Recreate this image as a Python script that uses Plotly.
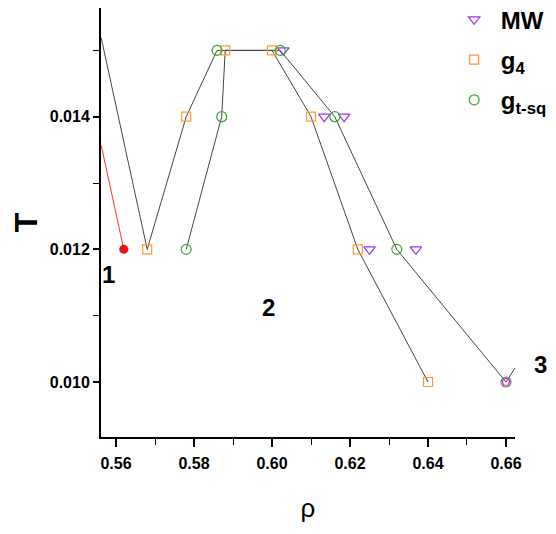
import plotly.graph_objects as go

# ---- data ----
mw_rho = [0.6029, 0.6134, 0.6185, 0.6250, 0.6369]
mw_T = [0.015, 0.014, 0.014, 0.012, 0.012]

g4_rho = [0.568, 0.578, 0.588, 0.600, 0.610, 0.622, 0.640]
g4_T = [0.012, 0.014, 0.015, 0.015, 0.014, 0.012, 0.010]

gt_rho = [0.578, 0.5871, 0.5859, 0.6021, 0.6161, 0.632, 0.660]
gt_T = [0.012, 0.014, 0.015, 0.015, 0.014, 0.012, 0.010]

pathA_rho = [0.5562, 0.568, 0.578, 0.5859, 0.6021, 0.6161, 0.632, 0.660, 0.6623]
pathA_T = [0.01519, 0.012, 0.014, 0.015, 0.015, 0.014, 0.012, 0.010, 0.01021]

pathB_rho = [0.578, 0.5871, 0.588, 0.600, 0.610, 0.622, 0.640]
pathB_T = [0.012, 0.014, 0.015, 0.015, 0.014, 0.012, 0.010]

red_rho = [0.5562, 0.562]
red_T = [0.01357, 0.012]
red_pt_rho = [0.562]
red_pt_T = [0.012]

mag_rho = [0.660]
mag_T = [0.010]

region_labels = ["1", "2"]
region_rho = [0.5580, 0.5990]
region_T = [0.01162, 0.01113]

x_range = [0.55615, 0.66231]
y_range = [0.009171, 0.015639]

SANS = "Liberation Sans, Arial, sans-serif"

fig = go.Figure()

line_style = dict(color="#444444", width=1)
fig.add_trace(go.Scatter(x=pathA_rho, y=pathA_T, mode="lines", line=line_style,
                         showlegend=False, hoverinfo="skip"))
fig.add_trace(go.Scatter(x=pathB_rho, y=pathB_T, mode="lines", line=line_style,
                         showlegend=False, hoverinfo="skip"))
fig.add_trace(go.Scatter(x=red_rho, y=red_T, mode="lines", line=dict(color="#ff3333", width=1),
                         showlegend=False, hoverinfo="skip"))
fig.add_trace(go.Scatter(x=red_pt_rho, y=red_pt_T, mode="markers",
                         marker=dict(symbol="circle", size=9, color="#ee1111"),
                         showlegend=False))

fig.add_trace(go.Scatter(x=mw_rho, y=mw_T, mode="markers", name="&nbsp;<b>MW</b>", legendgroup="a",
                         marker=dict(symbol="triangle-down-open", size=10, color="#9933ff",
                                     line=dict(width=1.2))))
fig.add_trace(go.Scatter(x=g4_rho, y=g4_T, mode="markers", name="&nbsp;<b>g<sub>4</sub></b>", legendgroup="b",
                         marker=dict(symbol="square-open", size=9, color="#ff9933",
                                     line=dict(width=1.2))))
fig.add_trace(go.Scatter(x=gt_rho, y=gt_T, mode="markers", name="&nbsp;<b>g<sub>t-sq</sub></b>", legendgroup="c",
                         marker=dict(symbol="circle-open", size=10, color="#33aa33",
                                     line=dict(width=1.2))))
fig.add_trace(go.Scatter(x=mag_rho, y=mag_T, mode="markers",
                         marker=dict(symbol="pentagon-open", size=8, color="#ff00ff",
                                     line=dict(width=1.2)),
                         showlegend=False))

annotations = []
for lab, xr, yt in zip(region_labels, region_rho, region_T):
    annotations.append(dict(x=xr, y=yt, xref="x", yref="y", text="<b>" + lab + "</b>",
                            showarrow=False, font=dict(family=SANS, size=24, color="black")))
annotations.append(dict(x=1.082, y=0.1329, xref="paper", yref="paper", text="<b>3</b>",
                        showarrow=False, font=dict(family=SANS, size=24, color="black")))

fig.update_layout(
    width=556, height=534,
    margin=dict(l=93, r=49, t=0, b=105, autoexpand=False),
    paper_bgcolor="white", plot_bgcolor="white",
    font=dict(family=SANS, color="black"),
    showlegend=True,
    legend=dict(x=0.853, y=1.025, xanchor="left", yanchor="top",
                font=dict(family=SANS, size=24, color="black"),
                bgcolor="rgba(0,0,0,0)", itemsizing="trace", tracegroupgap=6),
    annotations=annotations,
    xaxis=dict(range=x_range, showgrid=False, zeroline=False, showline=True, automargin=False,
               linecolor="black", linewidth=2, ticks="outside", ticklen=8, tickwidth=1.5,
               tickcolor="black", tick0=0.56, dtick=0.02, tickformat=".2f",
               ticklabelstandoff=3,
               tickfont=dict(family=SANS, size=16, color="black", weight="bold"),
               minor=dict(dtick=0.01, tick0=0.56, ticks="outside", ticklen=6, tickwidth=1.2,
                          tickcolor="black"),
               title=dict(text="ρ", font=dict(family=SANS, size=26, color="black"), standoff=28)),
    yaxis=dict(range=y_range, showgrid=False, zeroline=False, showline=True, automargin=False,
               linecolor="black", linewidth=2, ticks="outside", ticklen=6, tickwidth=1.5,
               tickcolor="black", tick0=0.010, dtick=0.002, tickformat=".3f",
               tickfont=dict(family=SANS, size=16, color="black", weight="bold"),
               minor=dict(dtick=0.001, tick0=0.010, ticks="outside", ticklen=6, tickwidth=1.2,
                          tickcolor="black"),
               title=dict(text="<b>T</b>", font=dict(family=SANS, size=32, color="black"), standoff=41)),
)

fig.write_html("out.html")
